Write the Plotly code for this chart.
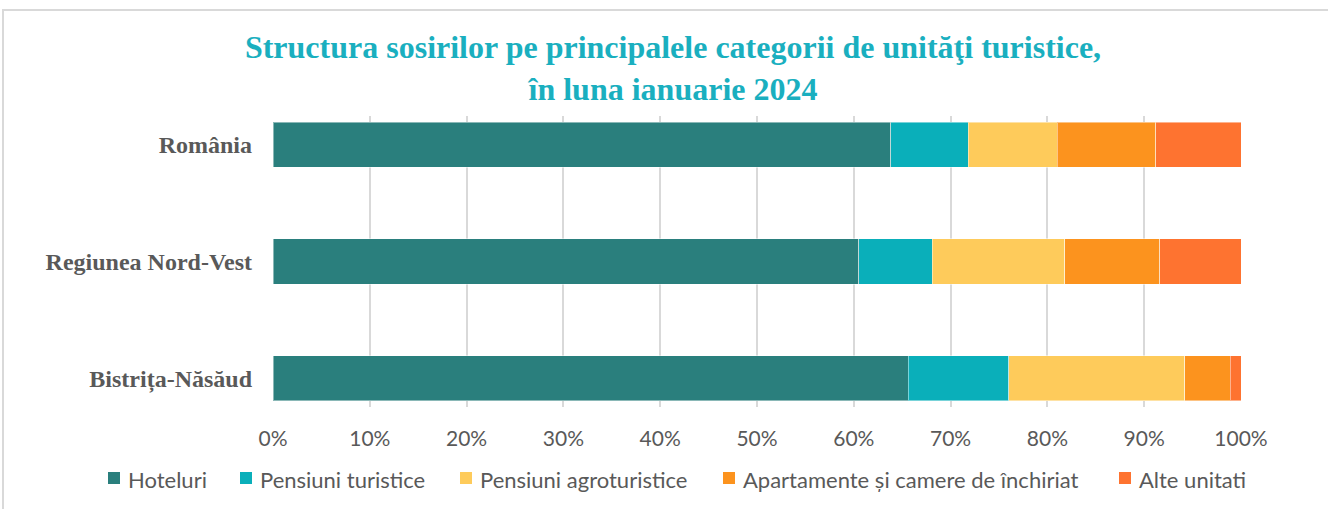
import plotly.graph_objects as go

categories = ["România", "Regiunea Nord-Vest", "Bistrița-Năsăud"]
series_names = ["Hoteluri", "Pensiuni turistice", "Pensiuni agroturistice",
                "Apartamente și camere de închiriat", "Alte unitati"]
hoteluri = [63.8, 60.5, 65.6]
pensiuni_turistice = [8.0, 7.6, 10.4]
pensiuni_agroturistice = [9.2, 13.7, 18.2]
apartamente = [10.2, 9.8, 4.7]
alte_unitati = [8.8, 8.4, 1.1]
tick_values = [0, 10, 20, 30, 40, 50, 60, 70, 80, 90, 100]
tick_labels = ["0%", "10%", "20%", "30%", "40%", "50%", "60%", "70%", "80%", "90%", "100%"]

series_values = [hoteluri, pensiuni_turistice, pensiuni_agroturistice, apartamente, alte_unitati]
colors = ["#2A7F7D", "#0AAFBA", "#FECB5B", "#FC931E", "#FE7330"]
legend_square_x = [108, 240, 460, 723, 1119]  # layout positions (px) of legend keys

W, H = 1328, 509
L, R, T, B = 273, 1241, 116, 407
pw, ph = R - L, B - T

def px(x):
    return (x - L) / pw

def py(y):
    return (B - y) / ph

fig = go.Figure()
for name, vals, col in zip(series_names, series_values, colors):
    fig.add_trace(go.Bar(
        y=categories, x=vals, name=name, orientation="h",
        marker=dict(color=col, line=dict(color="rgba(255,255,255,0.45)", width=1)),
        showlegend=False,
    ))

shapes = [dict(
    type="rect", xref="paper", yref="paper",
    x0=px(3), x1=px(1335), y0=py(515), y1=py(10),
    line=dict(color="#D9D9D9", width=2), fillcolor="rgba(0,0,0,0)", layer="below",
)]
annotations = []
legend_y = 478
for name, col, sx in zip(series_names, colors, legend_square_x):
    shapes.append(dict(
        type="rect", xref="paper", yref="paper",
        x0=px(sx), x1=px(sx + 12), y0=py(legend_y + 6), y1=py(legend_y - 6),
        line=dict(width=0), fillcolor=col,
    ))
    annotations.append(dict(
        text=name, xref="paper", yref="paper",
        x=px(sx + 18), y=py(legend_y + 1), xanchor="left", yanchor="middle",
        showarrow=False,
        font=dict(family="Lato", size=22, color="#595959"),
    ))

fig.update_layout(
    width=W, height=H,
    barmode="stack", bargap=0.615,
    paper_bgcolor="white", plot_bgcolor="white",
    margin=dict(l=L, r=W - R, t=T, b=H - B, autoexpand=False),
    title=dict(
        text="Structura sosirilor pe principalele categorii de unităţi turistice,<br>în luna ianuarie 2024",
        font=dict(family="Liberation Serif", size=32, color="#1AAFBF", weight="bold"),
        x=673 / W, xanchor="center", y=1 - 58 / H, yanchor="top",
    ),
    xaxis=dict(
        range=[0, 100], tickvals=tick_values, ticktext=tick_labels,
        showgrid=True, gridcolor="#D9D9D9", gridwidth=2, zeroline=False,
        showline=False, ticks="",
        tickfont=dict(family="Lato", size=21, color="#595959"),
        ticklabelstandoff=17,
    ),
    yaxis=dict(
        categoryorder="array", categoryarray=categories[::-1],
        range=[-0.244, 2.244],
        showgrid=False, zeroline=False, showline=False, ticks="",
        tickfont=dict(family="Liberation Serif", size=24, color="#595959", weight="bold"),
        ticklabelstandoff=20,
    ),
    shapes=shapes,
    annotations=annotations,
    showlegend=False,
)

fig.write_html("out.html", config={"displayModeBar": False},
               post_script="document.body.style.margin='0';")
